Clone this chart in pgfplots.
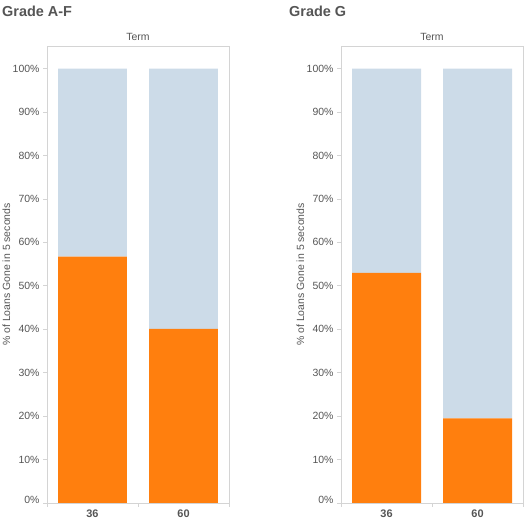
\documentclass[border=0pt]{standalone}
\usepackage{pgfplots}
\pgfplotsset{compat=1.18}
\usepackage{fontspec}
\setmainfont{Liberation Sans}
\definecolor{tabor}{RGB}{255,127,14}
\definecolor{tabbl}{RGB}{204,219,232}
\definecolor{axgray}{RGB}{212,212,212}
\definecolor{txt}{RGB}{85,85,85}
\pgfplotsset{panel/.style={
  scale only axis, width=182bp, height=457bp,
  ymin=0, ymax=105.2, xmin=-0.5, xmax=1.5,
  ybar stacked, bar width=0.758,
  xtick={0,1}, xticklabels={36,60},
  minor xtick={-0.5,0.5,1.5},
  ytick={0,10,...,100},
  yticklabels={\raisebox{6bp}{0\%},10\%,20\%,30\%,40\%,50\%,60\%,70\%,80\%,90\%,100\%},
  tick align=outside, xtick pos=bottom, ytick pos=left,
  major tick length=4bp, minor tick length=4bp,
  axis line style={axgray, line width=0.8bp},
  tick style={axgray, line width=0.8bp},
  major x tick style={draw=none},
  yticklabel style={font=\fontsize{10.5}{12}\selectfont, text=txt},
  xticklabel style={font=\fontsize{11}{13}\bfseries, text=txt, yshift=1bp},
  title={Term},
  title style={at={(axis description cs:0.5,1)}, anchor=base, yshift=0bp, inner sep=0pt, font=\fontsize{10.5}{12}\selectfont, text=txt},
  ylabel={\% of Loans Gone in 5 seconds},
  ylabel style={at={(axis description cs:-0.2033,0.5)}, anchor=base, rotate=0, inner sep=0pt, font=\fontsize{10.5}{12}\selectfont, text=txt},
}}
\begin{document}
\begin{tikzpicture}[x=1bp,y=1bp]
\begin{axis}[panel, at={(47bp,21bp)}, anchor=south west]
\addplot[fill=tabor, draw=none] coordinates {(0,56.7) (1,40.1)};
\addplot[fill=tabbl, draw=none] coordinates {(0,43.3) (1,59.9)};
\end{axis}
\begin{axis}[panel, at={(341bp,21bp)}, anchor=south west]
\addplot[fill=tabor, draw=none] coordinates {(0,53.0) (1,19.5)};
\addplot[fill=tabbl, draw=none] coordinates {(0,47.0) (1,80.5)};
\end{axis}
\node[anchor=base west, inner sep=0pt, font=\fontsize{14.5}{16}\bfseries, text=txt] at (2,507) {Grade A-F};
\node[anchor=base west, inner sep=0pt, font=\fontsize{14.5}{16}\bfseries, text=txt] at (289,507) {Grade G};
\pgfresetboundingbox
\path (0,0) rectangle (524,524);
\end{tikzpicture}
\end{document}
